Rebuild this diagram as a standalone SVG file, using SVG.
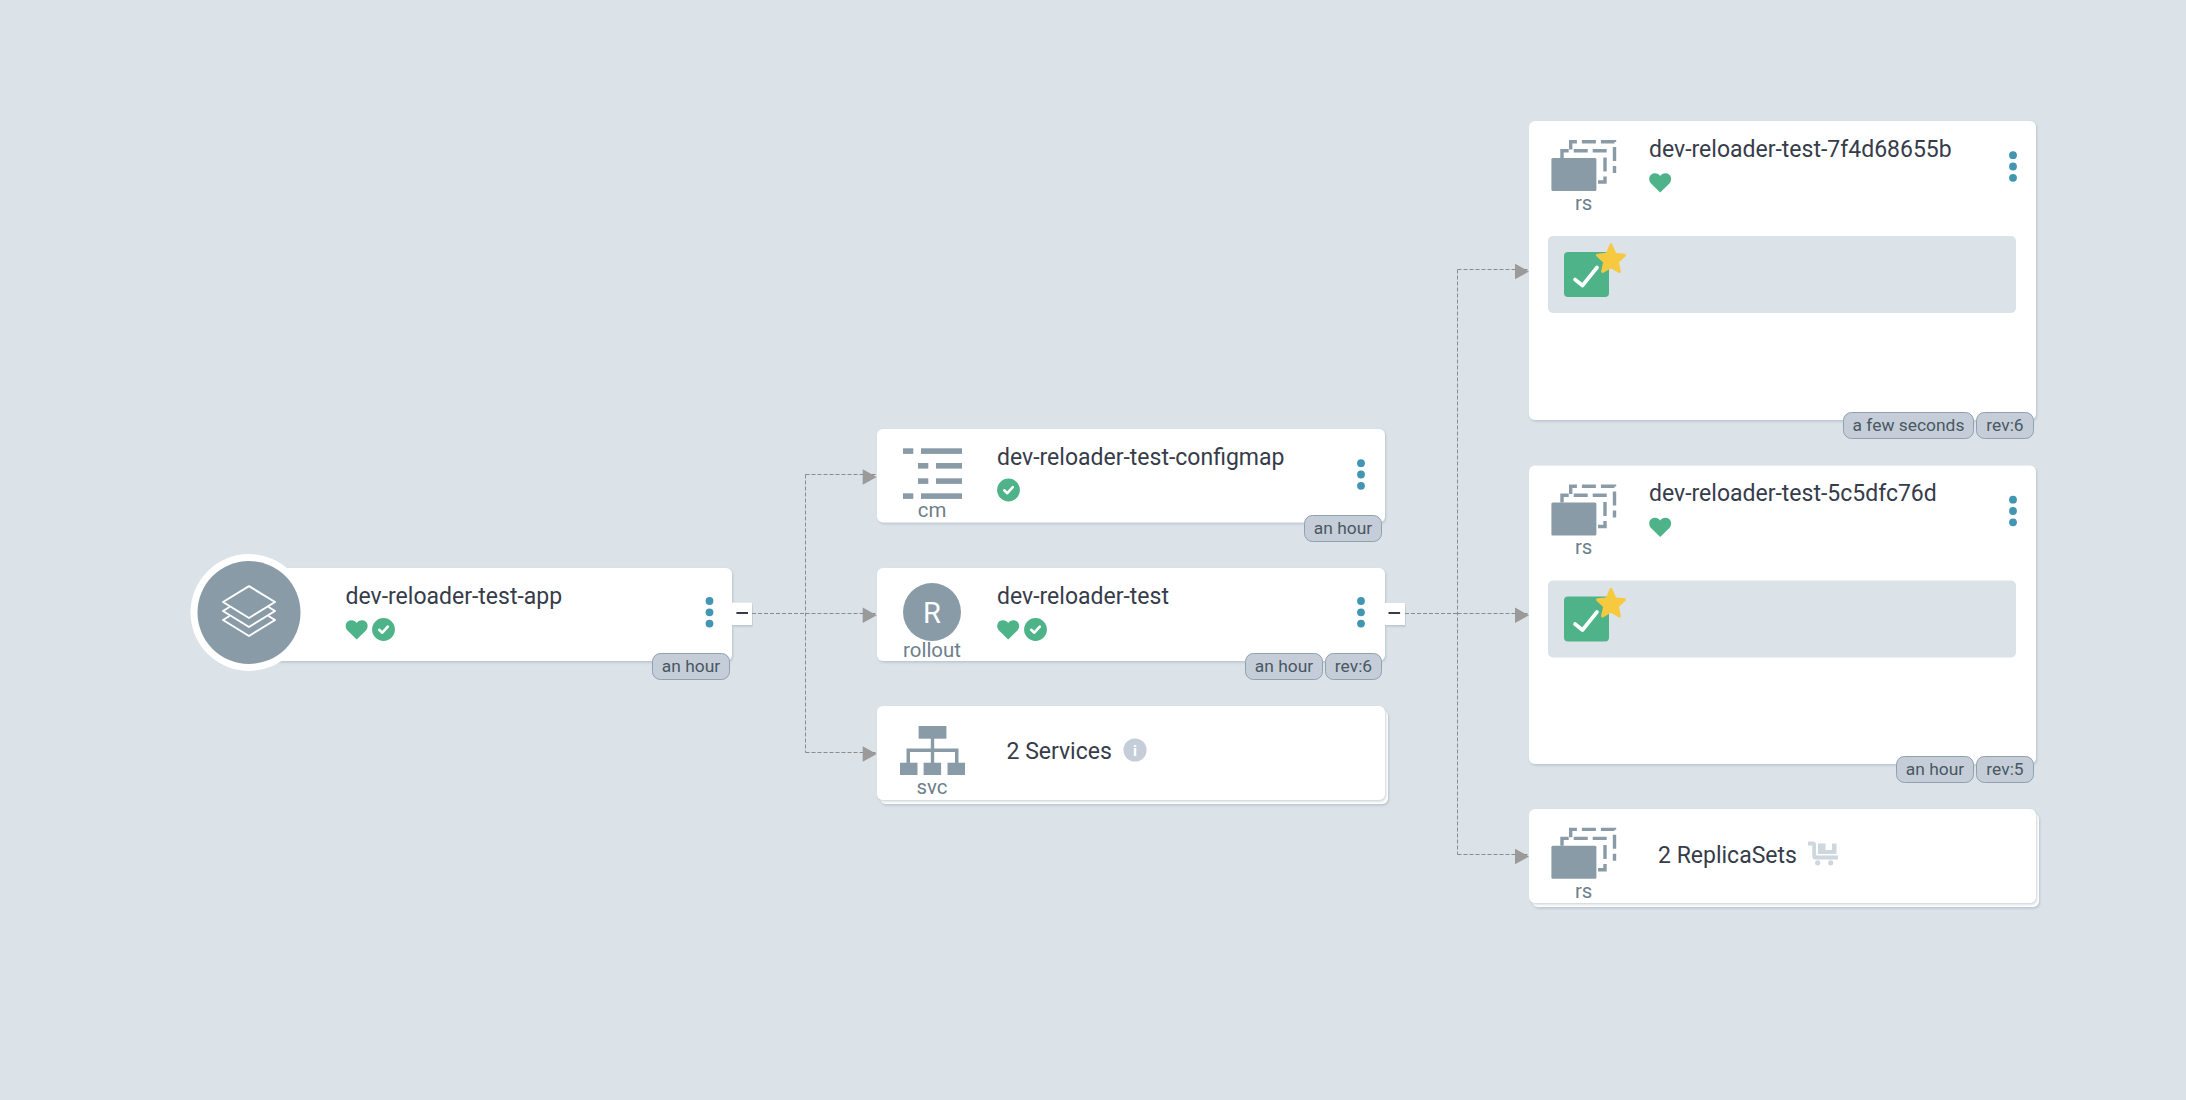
<svg xmlns="http://www.w3.org/2000/svg" xmlns:xlink="http://www.w3.org/1999/xlink" width="2186" height="1100" viewBox="0 0 2186 1100">
<style>
text{font-family:Roboto,"Liberation Sans",sans-serif}
.card{fill:#fff;filter:url(#sh)}
.back{fill:#fff;filter:url(#sh)}
.title{font-size:23px;fill:#363c4a}
.kind{font-size:20.4px;fill:#6d7f8b;text-anchor:middle}
.badge{fill:#c5ced8;stroke:#8fa1ae;stroke-width:1}
.btxt{font-size:17.4px;fill:#495763;text-anchor:middle}
.dot{fill:#4296b2}
.ico{fill:#8a9ba8}
.edge{fill:none;stroke:#8c8c8c;stroke-width:1;stroke-dasharray:4 2}
.arr{fill:#9a9a9a}
.band{fill:#dbe2e8}
.ok{fill:#4fb38a}
.chk{fill:none;stroke:#fff;stroke-width:2.6;stroke-linecap:round;stroke-linejoin:round}
.dash{fill:none;stroke:#8a9ba8;stroke-width:3.4;stroke-dasharray:14 5}
</style>
<defs>
<filter id="sh" x="-5%" y="-5%" width="110%" height="115%"><feDropShadow dx="1" dy="1.5" stdDeviation="1" flood-color="#8fa1ae" flood-opacity="0.45"/></filter>
<path id="heart" class="ok" d="M11.2 19.4 L2 10.4 C-1.4 6.8 0.2 0.4 5.8 0.2 C8 0.1 9.9 1.2 11.2 2.9 C12.5 1.2 14.4 0.1 16.6 0.2 C22.2 0.4 23.8 6.8 20.4 10.4 Z"/>
<g id="check"><circle class="ok" r="11.4"/><path class="chk" d="M-4.3 0.3 L-1.2 3.2 L4.3 -2.9"/></g>
<g id="dots"><circle class="dot" cy="-11.3" r="3.9"/><circle class="dot" r="3.9"/><circle class="dot" cy="11.3" r="3.9"/></g>
<g id="rsicon">
<path class="dash" d="M1570.7 149.5 V141.7 H1614.5 V173"/>
<path class="dash" d="M1562 158 V150.7 H1605 V182 H1598"/>
<rect class="ico" x="1551.4" y="158" width="45" height="33" rx="1.5"/>
</g>
<g id="tile">
<rect class="band" x="1548" y="236" width="468" height="77" rx="5"/>
<rect class="ok" x="1564" y="252" width="45" height="45" rx="4"/>
<path d="M1575 279.5 L1582.5 285.5 L1597 267.5" fill="none" stroke="#fff" stroke-width="3.6" stroke-linecap="round" stroke-linejoin="round"/>
<path fill="#f6c93f" stroke="#f6c93f" stroke-width="3" stroke-linejoin="round" d="M1611 245 L1615 254.3 L1624.5 255.2 L1617.3 261.8 L1619.4 271.5 L1611 266.4 L1602.6 271.5 L1604.7 261.8 L1597.5 255.2 L1607 254.3 Z"/>
</g>
<path id="ah" class="arr" d="M0 -7.8 L14 0 L0 7.8 Z"/>
</defs>

<rect width="2186" height="1100" fill="#dbe2e8"/>

<g id="connectors">
<path class="edge" d="M752 613.5 H805.5 M805.5 474.5 V752.5 M805.5 474.5 H877 M805.5 613.5 H877 M805.5 752.5 H877"/>
<path class="edge" d="M1405 613.5 H1457.5 M1457.5 269.5 V854.5 M1457.5 269.5 H1529 M1457.5 613.5 H1529 M1457.5 854.5 H1529"/>
<use xlink:href="#ah" href="#ah" x="862.7" y="477"/>
<use xlink:href="#ah" href="#ah" x="862.7" y="615.3"/>
<use xlink:href="#ah" href="#ah" x="862.7" y="754"/>
<use xlink:href="#ah" href="#ah" x="1515" y="271.5"/>
<use xlink:href="#ah" href="#ah" x="1515" y="615.3"/>
<use xlink:href="#ah" href="#ah" x="1515" y="856.5"/>
</g>

<g id="node-app">
<rect class="card" x="250" y="568" width="482" height="93" rx="6"/>
<circle cx="249" cy="612.5" r="58.5" fill="#fff"/>
<circle cx="249" cy="612.5" r="51.5" fill="#8a9ba8"/>
<g fill="none" stroke="#fff" stroke-width="2" stroke-linejoin="round" transform="translate(249 612)">
<path d="M0 -25.8 L26 -10 L0 6 L-26 -10 Z"/>
<path d="M-19.5 -5 L-26 -1 L0 15 L26 -1 L19.5 -5"/>
<path d="M-19.5 4 L-26 8 L0 24 L26 8 L19.5 4"/>
</g>
<text class="title" x="345.5" y="603.5">dev-reloader-test-app</text>
<use xlink:href="#heart" href="#heart" x="345.5" y="620"/>
<use xlink:href="#check" href="#check" x="383.5" y="629.5"/>
<use xlink:href="#dots" href="#dots" x="709.5" y="612.3"/>
<rect x="732" y="602.7" width="20" height="22.3" fill="#fff" filter="url(#sh)"/>
<rect x="736.4" y="612" width="11.6" height="2" fill="#363c4a"/>
<rect class="badge" x="652.5" y="653.5" width="77" height="26" rx="8"/>
<text class="btxt" x="691" y="672">an hour</text>
</g>

<g id="node-configmap">
<rect class="card" x="877" y="429" width="508" height="93.5" rx="6"/>
<g class="ico">
<rect x="903" y="448.3" width="10.3" height="5.6"/><rect x="921" y="448.3" width="41" height="5.6"/>
<rect x="918" y="463" width="10.3" height="5.6"/><rect x="936" y="463" width="26" height="5.6"/>
<rect x="918" y="478.3" width="10.3" height="5.6"/><rect x="936" y="478.3" width="26" height="5.6"/>
<rect x="903" y="493.3" width="10.3" height="5.6"/><rect x="921" y="493.3" width="41" height="5.6"/>
</g>
<text class="kind" x="932" y="517">cm</text>
<text class="title" x="997" y="464.5">dev-reloader-test-configmap</text>
<use xlink:href="#check" href="#check" x="1008.5" y="490"/>
<use xlink:href="#dots" href="#dots" x="1361" y="474.5"/>
<rect class="badge" x="1304.5" y="515.5" width="77" height="26" rx="8"/>
<text class="btxt" x="1343" y="534">an hour</text>
</g>

<g id="node-rollout">
<rect class="card" x="877" y="568" width="508" height="93" rx="6"/>
<circle class="ico" cx="932" cy="612" r="29"/>
<text x="932" y="622.5" font-size="29" fill="#fff" text-anchor="middle">R</text>
<text class="kind" x="932" y="657">rollout</text>
<text class="title" x="997" y="603.5">dev-reloader-test</text>
<use xlink:href="#heart" href="#heart" x="997" y="620"/>
<use xlink:href="#check" href="#check" x="1035.5" y="629.5"/>
<use xlink:href="#dots" href="#dots" x="1361" y="612.3"/>
<rect x="1385" y="603" width="20" height="22" fill="#fff" filter="url(#sh)"/>
<rect x="1388.5" y="612" width="11.6" height="2" fill="#363c4a"/>
<rect class="badge" x="1245.5" y="653.5" width="77" height="26" rx="8"/>
<text class="btxt" x="1284" y="672">an hour</text>
<rect class="badge" x="1325.5" y="653.5" width="56" height="26" rx="8"/>
<text class="btxt" x="1353.5" y="672">rev:6</text>
</g>

<g id="node-services">
<rect class="back" x="880" y="710" width="508" height="94" rx="6"/>
<rect class="card" x="877" y="706" width="508" height="94" rx="6"/>
<g class="ico">
<rect x="918.6" y="726" width="27.8" height="12.7"/>
<rect x="930.8" y="738" width="3.4" height="25"/>
<path d="M906.5 763 V748.5 H958.5 V763 H955 V752 H910 V763 Z"/>
<rect x="900" y="762.7" width="17.5" height="12.3"/><rect x="923.6" y="762.7" width="17.5" height="12.3"/><rect x="947.5" y="762.7" width="17.5" height="12.3"/>
</g>
<text class="kind" x="932" y="794">svc</text>
<text class="title" x="1006.5" y="758.5">2 Services</text>
<circle cx="1135" cy="750" r="11.6" fill="#c5ced8"/>
<text x="1135" y="756" font-size="15" font-weight="700" fill="#fff" text-anchor="middle" font-family="DejaVu Serif, serif">i</text>
</g>

<g id="node-rs1">
<rect class="card" x="1529" y="121" width="507" height="299" rx="6"/>
<use xlink:href="#rsicon" href="#rsicon"/>
<text class="kind" x="1583.6" y="209.5">rs</text>
<text class="title" x="1649" y="156.5">dev-reloader-test-7f4d68655b</text>
<use xlink:href="#heart" href="#heart" x="1649" y="173"/>
<use xlink:href="#dots" href="#dots" x="2013" y="166.5"/>
<use xlink:href="#tile" href="#tile"/>
<rect class="badge" x="1843.5" y="412.5" width="130" height="26" rx="8"/>
<text class="btxt" x="1908.5" y="431">a few seconds</text>
<rect class="badge" x="1976.5" y="412.5" width="57" height="26" rx="8"/>
<text class="btxt" x="2005" y="431">rev:6</text>
</g>

<g id="node-rs2">
<rect class="card" x="1529" y="465.5" width="507" height="298.5" rx="6"/>
<use xlink:href="#rsicon" href="#rsicon" y="344.5"/>
<text class="kind" x="1583.6" y="554">rs</text>
<text class="title" x="1649" y="501">dev-reloader-test-5c5dfc76d</text>
<use xlink:href="#heart" href="#heart" x="1649" y="517.5"/>
<use xlink:href="#dots" href="#dots" x="2013" y="511"/>
<use xlink:href="#tile" href="#tile" y="344.5"/>
<rect class="badge" x="1896.5" y="756.5" width="77" height="26" rx="8"/>
<text class="btxt" x="1935" y="775">an hour</text>
<rect class="badge" x="1976.5" y="756.5" width="57" height="26" rx="8"/>
<text class="btxt" x="2005" y="775">rev:5</text>
</g>

<g id="node-replicasets">
<rect class="back" x="1532" y="813" width="507" height="94" rx="6"/>
<rect class="card" x="1529" y="809" width="507" height="94" rx="6"/>
<use xlink:href="#rsicon" href="#rsicon" y="687.7"/>
<text class="kind" x="1583.6" y="897.7">rs</text>
<text class="title" x="1658" y="862.5">2 ReplicaSets</text>
<g fill="#ced6de">
<path d="M1808 841.5 H1813 C1815 841.5 1816 843 1816 845 V855.5 H1838 V859.5 H1815 C1813 859.5 1812.3 858 1812.3 856.5 V845.5 H1808 Z"/>
<path d="M1818 843.5 H1825.5 V850 H1832 V843.5 H1836.5 V854 H1818 Z"/>
<circle cx="1817.7" cy="862.8" r="2.6"/><circle cx="1830.7" cy="862.8" r="2.6"/>
</g>
</g>
</svg>
